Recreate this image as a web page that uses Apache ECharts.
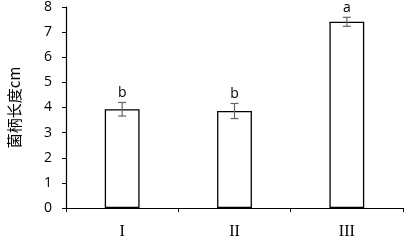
<!DOCTYPE html>
<html><head><meta charset="utf-8">
<script src="https://cdn.jsdelivr.net/npm/echarts@6/dist/echarts.min.js"></script>
<style>html,body{margin:0;padding:0;background:#fff}#c{width:407px;height:241px}</style>
</head><body><div id="c"></div>
<script>
const categories = ['I', 'II', 'III'];
const values = [3.93, 3.86, 7.41];
const errors = [0.27, 0.30, 0.18];
const letters = ['b', 'b', 'a'];
const yTicks = [0, 1, 2, 3, 4, 5, 6, 7, 8];

const chart = echarts.init(document.getElementById('c'));
chart.setOption({
  animation: false,
  grid: {left: 66, right: 4, top: 7, bottom: 33, containLabel: false, outerBoundsMode: 'none'},
  xAxis: {
    type: 'category', data: categories,
    axisLine: {lineStyle: {color: '#000', width: 1.2}},
    axisTick: {show: true, length: 4, lineStyle: {color: '#000'}},
    axisLabel: {fontFamily: 'Liberation Serif', fontSize: 16, color: '#000', margin: 16}
  },
  yAxis: {
    type: 'value', min: 0, max: 8, interval: 1,
    name: '菌柄长度cm', nameLocation: 'middle', nameGap: 44, nameRotate: 90,
    nameTextStyle: {fontFamily: 'Noto Sans CJK SC', fontSize: 15, color: '#000'},
    axisLine: {show: true, lineStyle: {color: '#000', width: 1.2}},
    axisTick: {show: true, length: 4, lineStyle: {color: '#000'}},
    splitLine: {show: false},
    axisLabel: {fontFamily: 'Open Sans', fontSize: 14, color: '#000', margin: 14,
      formatter: v => yTicks.includes(v) ? String(v) : ''}
  },
  series: [
    {
      type: 'bar', data: values, barWidth: '31%',
      itemStyle: {color: '#fff', borderColor: '#000', borderWidth: 1.3}
    },
    {
      type: 'custom',
      data: values.map((v, i) => [i, v, errors[i], letters[i]]),
      renderItem: (params, api) => {
        const x = api.value(0), v = api.value(1), e = api.value(2);
        const hi = api.coord([x, v + e]), lo = api.coord([x, v - e]);
        const cx = hi[0], w = 4;
        const st = {stroke: '#666', lineWidth: 1.2};
        return {type: 'group', children: [
          {type: 'line', shape: {x1: cx, y1: hi[1], x2: cx, y2: lo[1]}, style: st},
          {type: 'line', shape: {x1: cx - w, y1: hi[1], x2: cx + w, y2: hi[1]}, style: st},
          {type: 'line', shape: {x1: cx - w, y1: lo[1], x2: cx + w, y2: lo[1]}, style: st},
          {type: 'text', style: {text: letters[params.dataIndex], x: cx, y: hi[1] - 2,
            textAlign: 'center', textVerticalAlign: 'bottom',
            font: '14px "Open Sans"', fill: '#000'}}
        ]};
      },
      z: 10
    }
  ]
});
</script></body></html>
